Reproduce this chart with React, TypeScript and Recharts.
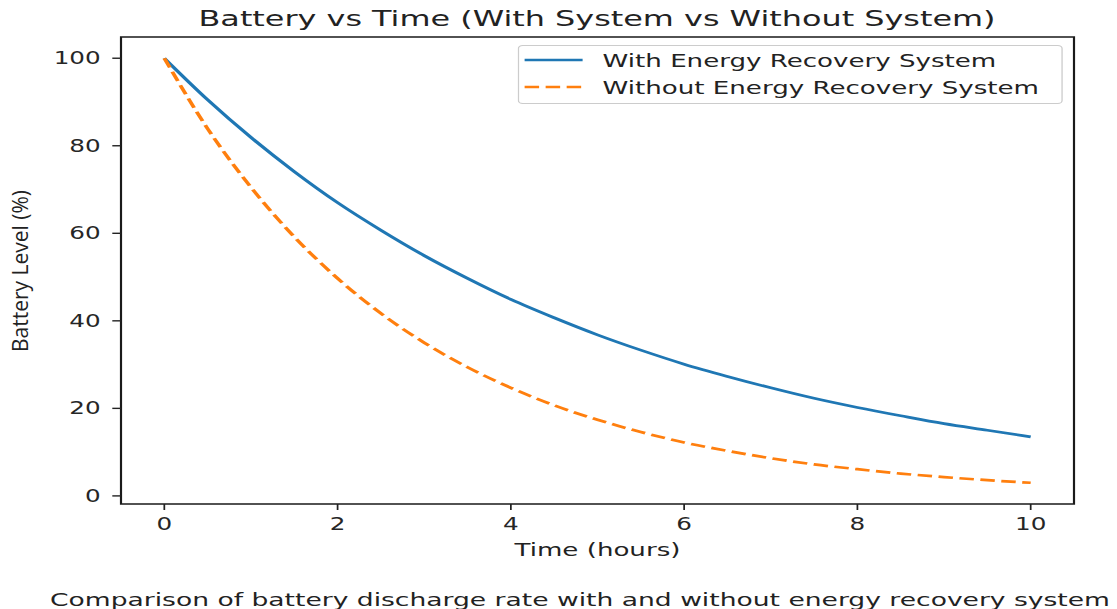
import { LineChart, Line, XAxis, YAxis, ReferenceArea, Legend } from "recharts"

const hours = [0, 0.5, 1, 1.5, 2, 2.5, 3, 3.5, 4, 4.5, 5, 5.5, 6, 6.5, 7, 7.5, 8, 8.5, 9, 9.5, 10]
const withSystem = [100, 90.5, 81.9, 74.1, 67.0, 60.7, 54.9, 49.7, 44.9, 40.7, 36.8, 33.3, 30.1, 27.3, 24.7, 22.3, 20.2, 18.3, 16.5, 15.0, 13.5]
const withoutSystem = [100, 83.9, 70.5, 59.2, 49.7, 41.7, 35.0, 29.4, 24.7, 20.7, 17.4, 14.6, 12.2, 10.3, 8.6, 7.2, 6.1, 5.1, 4.3, 3.6, 3.0]
const xTicks = [0, 2, 4, 6, 8, 10]
const yTicks = [0, 20, 40, 60, 80, 100]

const data = hours.map((t, i) => ({ t, with: withSystem[i], without: withoutSystem[i] }))

// the reference is stretched sideways, so draw narrow and scale x
const SX = 1.45
const W = 1117 / SX
const H = 609
const tickFont = { fontFamily: "DejaVu Sans", fontSize: 17, fill: "#262626" }

const labels: Record<string, string> = {
  with: "With Energy Recovery System",
  without: "Without Energy Recovery System",
}

function renderLegend(props: any) {
  const items = props.payload || []
  return (
    <svg width={376} height={59}>
      <rect x={0.5} y={0.5} width={375} height={58} rx={3} fill="#fff" fillOpacity={0.8} stroke="#cccccc" />
      {items.map((e: any, i: number) => (
        <g key={e.dataKey}>
          <line
            x1={4.8}
            x2={44.8}
            y1={15 + i * 27}
            y2={15 + i * 27}
            stroke={e.color}
            strokeWidth={2.6}
            strokeDasharray={e.payload?.strokeDasharray}
          />
          <text x={58.6} y={22 + i * 27} fontFamily="DejaVu Sans" fontSize={18} fill="#222">
            {labels[e.dataKey]}
          </text>
        </g>
      ))}
    </svg>
  )
}

export default function App() {
  return (
    <div style={{ position: "absolute", left: 0, top: 0, width: 1117, height: 609, overflow: "hidden", background: "#fff" }}>
      <div style={{ position: "relative", width: W, height: H, transform: `scaleX(${SX})`, transformOrigin: "0 0" }}>
        <LineChart width={W} height={H} data={data} margin={{ top: 37, right: W - 1074 / SX, bottom: 65, left: 121 / SX - 70 }}>
          <XAxis
            dataKey="t"
            type="number"
            domain={[-0.5, 10.5]}
            ticks={xTicks}
            allowDataOverflow
            height={40}
            axisLine={false}
            tickSize={6}
            tickMargin={8}
            tickLine={{ stroke: "#222", strokeWidth: 1.2 }}
            tick={tickFont}
          />
          <YAxis
            type="number"
            domain={[-1.85, 104.85]}
            ticks={yTicks}
            allowDataOverflow
            width={70}
            axisLine={false}
            tickSize={6}
            tickMargin={8}
            tickLine={{ stroke: "#222", strokeWidth: 1.4 }}
            tick={tickFont}
          />
          <ReferenceArea x1={-0.5} x2={10.5} y1={-1.85} y2={104.85} fill="none" fillOpacity={0} stroke="#1a1a1a" strokeWidth={1.5} />
          <Line dataKey="with" type="monotone" stroke="#1f77b4" strokeWidth={2.7} dot={false} isAnimationActive={false} />
          <Line
            dataKey="without"
            type="monotone"
            stroke="#ff7f0e"
            strokeWidth={2.7}
            strokeDasharray="10 4.5"
            dot={false}
            isAnimationActive={false}
          />
          <Legend
            layout="horizontal"
            verticalAlign="middle"
            align="center"
            content={renderLegend}
            wrapperStyle={{ left: 518 / SX, top: 45, width: 376, height: 59 }}
          />
        </LineChart>
        <svg width={W} height={H} style={{ position: "absolute", left: 0, top: 0, pointerEvents: "none" }}>
          <text x={597 / SX} y={26} textAnchor="middle" fontFamily="DejaVu Sans" fontSize={22} fill="#222" textLength={797 / SX} lengthAdjust="spacingAndGlyphs">
            Battery vs Time (With System vs Without System)
          </text>
          <text x={597.5 / SX} y={556} textAnchor="middle" fontFamily="DejaVu Sans" fontSize={18} fill="#222">
            Time (hours)
          </text>
          <text
            transform={`translate(${28 / SX},271) rotate(-90)`}
            textAnchor="middle"
            fontFamily="Open Sans"
            fontSize={14.5}
            fill="#222"
            textLength={162}
            lengthAdjust="spacingAndGlyphs"
          >
            Battery Level (%)
          </text>
          <text x={580 / SX} y={606} textAnchor="middle" fontFamily="DejaVu Sans" fontSize={17.5} fill="#222" textLength={1060 / SX} lengthAdjust="spacingAndGlyphs">
            Comparison of battery discharge rate with and without energy recovery system
          </text>
        </svg>
      </div>
    </div>
  )
}
